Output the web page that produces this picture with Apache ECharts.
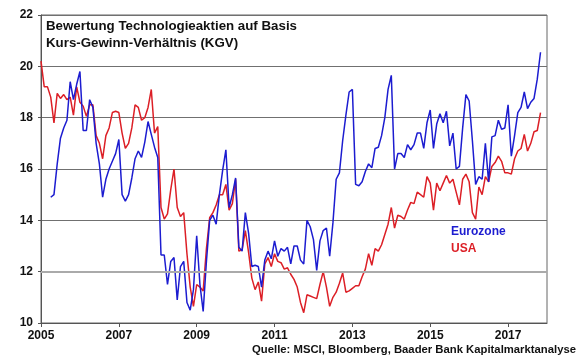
<!DOCTYPE html>
<html>
<head>
  <meta charset="utf-8"/>
  <script src="https://cdn.jsdelivr.net/npm/echarts@6/dist/echarts.min.js"></script>
  <style>body{margin:0;}</style>
</head>
<body>
  <div id="chartmain" style="width:580px; height:358px;"></div>

  <script type="text/javascript">
    // KGV, monthly, first value Jan 2005
    var usa = [
      20.2, 19.2, 19.2, 18.8, 17.8, 18.95, 18.75, 18.9, 18.7, 18.8, 18.1, 19.2,
      18.6, 18.45, 18.05, 18.5, 18.5, 17.3, 17.0, 16.4, 17.3, 17.6, 18.2, 18.25,
      18.2, 17.4, 16.8, 17.0, 17.6, 18.5, 18.4, 17.9, 18.0, 18.4, 19.1, 17.4,
      17.65, 14.5, 14.05, 14.25, 15.2, 16.0, 14.5, 14.15, 14.3, 12.7, 11.4, 10.65,
      11.5, 11.4, 11.25, 12.9, 14.1, 14.3, 14.6, 15.0, 15.0, 15.4, 14.4, 14.65,
      15.6, 12.8, 12.85, 13.6, 12.75, 11.75, 11.3, 11.6, 10.85, 12.3, 12.55, 12.2,
      12.7, 12.4, 12.35, 12.1, 12.15, 11.9, 11.7, 11.4, 10.8, 10.4, 11.1, 11.05,
      11.0, 10.95, 11.5, 12.0, 11.4, 10.65, 11.0, 11.2, 11.55, 11.95, 11.2, 11.25,
      11.35, 11.45, 11.45, 11.8, 12.1, 12.7, 12.25, 12.9, 12.8, 13.05, 13.45, 13.85,
      14.5, 13.7, 14.2, 14.15, 14.05, 14.4, 14.7, 14.65, 15.1, 15.0, 14.9, 15.7,
      15.45, 14.4, 15.45, 15.15, 15.45, 15.75, 15.45, 15.6, 15.1, 14.6, 15.6, 15.8,
      15.5, 14.3, 14.05, 15.3, 15.0, 15.7, 15.5, 16.1, 16.25, 16.5, 16.3, 15.85,
      15.85, 15.8, 16.4, 16.7, 16.8, 17.35, 16.7, 17.0, 17.45, 17.5, 18.2
    ];

    // Eurozone starts in Apr 2005 (3 months later)
    var eurozoneStart = 3;
    var eurozone = [
      14.9, 15.0, 16.2, 17.2, 17.6, 17.9, 19.4, 18.7, 19.3,
      19.8, 17.5, 17.5, 18.7, 18.4, 17.0, 16.2, 14.9, 15.6, 16.0, 16.3, 16.6,
      17.15, 15.0, 14.75, 15.0, 15.65, 16.4, 16.7, 16.45, 17.05, 17.85, 17.35, 16.85,
      16.45, 12.65, 12.65, 11.5, 12.4, 12.55, 10.9, 12.2, 12.4, 10.8, 10.5, 11.3,
      13.4, 11.5, 10.45, 12.4, 14.0, 14.2, 13.85, 15.0, 15.95, 16.75, 14.5, 15.0,
      15.65, 12.95, 12.8, 14.3, 13.5, 12.2, 12.25, 12.2, 11.4, 12.45, 12.8, 12.5,
      13.2, 12.6, 12.9, 12.8, 12.95, 12.3, 13.0, 13.0, 12.45, 12.3, 14.0, 13.75,
      13.25, 12.05, 13.2, 13.6, 13.7, 12.6, 13.9, 15.6, 15.85, 17.1, 18.1, 19.0,
      19.1, 15.4, 15.35, 15.5, 15.9, 16.2, 16.05, 16.8, 16.85, 17.3, 18.0, 19.1,
      19.65, 16.0, 16.6, 16.6, 16.45, 16.95, 16.75, 16.95, 17.4, 17.4, 16.8, 17.8,
      18.3, 16.8, 17.75, 18.15, 17.8, 18.25, 16.9, 17.4, 16.0, 16.1, 17.6, 18.9,
      18.65, 17.1, 15.4, 15.7, 15.6, 17.0, 15.5, 17.25, 17.3, 17.9, 17.55, 17.6,
      18.5, 16.5, 17.3, 18.2, 18.4, 19.0, 18.35, 18.6, 18.75, 19.5, 20.55
    ];

    var startYear = 2005;
    var fontFam = 'Arial, "Liberation Sans", sans-serif';

    function toPoints(values, offset) {
      var pts = [];
      for (var i = 0; i < values.length; i++) {
        pts.push([startYear + (i + offset) / 12, values[i]]);
      }
      return pts;
    }

    var option = {
      animation: false,
      backgroundColor: '#fff',
      title: {
        text: 'Bewertung Technologieaktien auf Basis\nKurs-Gewinn-Verhältnis (KGV)',
        left: 46,
        top: 18,
        padding: 0,
        textStyle: {
          fontFamily: fontFam,
          fontSize: 13.3,
          fontWeight: 'bold',
          color: '#111',
          lineHeight: 17
        }
      },
      grid: {
        show: true,
        left: 41,
        right: 33,
        top: 15,
        bottom: 35,
        borderColor: '#666',
        borderWidth: 1
      },
      xAxis: {
        type: 'value',
        min: 2005,
        max: 2018,
        interval: 2,
        axisLine: { lineStyle: { color: '#555' } },
        axisTick: { show: true, length: 4, lineStyle: { color: '#555' } },
        splitLine: { show: false },
        axisLabel: {
          showMaxLabel: false,
          fontFamily: fontFam,
          fontSize: 12,
          fontWeight: 'bold',
          color: '#111',
          margin: 7,
          formatter: function (v) { return String(v); }
        }
      },
      yAxis: {
        type: 'value',
        min: 10,
        max: 22,
        interval: 2,
        axisLine: { show: true, lineStyle: { color: '#555' } },
        axisTick: { show: true, length: 3, lineStyle: { color: '#555' } },
        splitLine: { lineStyle: { color: '#707070', width: 1 } },
        axisLabel: {
          fontFamily: fontFam,
          fontSize: 12,
          fontWeight: 'bold',
          color: '#111',
          margin: 8
        }
      },
      graphic: [
        {
          type: 'text', left: 451, top: 226,
          style: { text: 'Eurozone', fill: '#1c1cd0', font: 'bold 12px ' + fontFam }
        },
        {
          type: 'text', left: 451, top: 243,
          style: { text: 'USA', fill: '#dc1f26', font: 'bold 12px ' + fontFam }
        },
        {
          type: 'text', right: 4, top: 344,
          style: { text: 'Quelle: MSCI, Bloomberg, Baader Bank Kapitalmarktanalyse', fill: '#111', font: 'bold 11.3px ' + fontFam }
        }
      ],
      series: [
        {
          name: 'USA',
          type: 'line',
          symbol: 'none',
          lineStyle: { color: '#dc1f26', width: 1.5 },
          markLine: {
            silent: true,
            symbol: 'none',
            label: { show: false },
            lineStyle: { color: '#aaaaaa', width: 2, type: 'solid' },
            data: [{ yAxis: 12 }]
          },
          data: toPoints(usa, 0)
        },
        {
          name: 'Eurozone',
          type: 'line',
          symbol: 'none',
          lineStyle: { color: '#1c1cd0', width: 1.5 },
          data: toPoints(eurozone, eurozoneStart)
        }
      ]
    };

    var myChart = echarts.init(document.getElementById('chartmain'));
    myChart.setOption(option);
  </script>
</body>
</html>
